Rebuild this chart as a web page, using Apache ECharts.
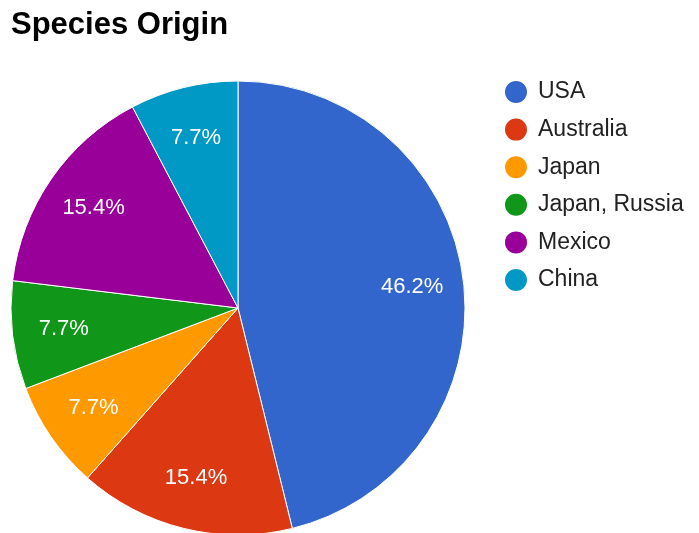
<!DOCTYPE html>
<html>
<head>
<meta charset="utf-8">
<script src="https://cdn.jsdelivr.net/npm/echarts@6/dist/echarts.min.js"></script>
<style>html,body{margin:0;padding:0;background:#fff}#c{width:699px;height:533px}</style>
</head>
<body>
<div id="c"></div>
<script>
var categories = ['USA', 'Australia', 'Japan', 'Japan, Russia', 'Mexico', 'China'];
var counts = [6, 2, 1, 1, 2, 1];
var colors = ['#3366cc', '#dc3912', '#ff9900', '#109618', '#990099', '#0099c6'];
var titleText = 'Species Origin';

var total = counts.reduce(function (a, b) { return a + b; }, 0);
var data = categories.map(function (n, i) { return { name: n, value: counts[i] }; });
var FONT = '"Liberation Sans", Arial, sans-serif';
var chart = echarts.init(document.getElementById('c'), null, { renderer: 'canvas' });
chart.setOption({
  animation: false,
  color: colors,
  title: {
    text: titleText, left: 6, top: 5,
    textStyle: { fontFamily: FONT, fontSize: 31, fontWeight: 'bold', color: '#000' }
  },
  legend: {
    orient: 'vertical', left: 503, top: 79, padding: 0,
    data: categories,
    icon: 'circle', itemWidth: 24, itemHeight: 24, itemGap: 11.6,
    textStyle: { fontFamily: FONT, fontSize: 23, color: '#222', padding: [0, 0, 0, 5] }
  },
  series: [{
    type: 'pie', center: [238, 308], radius: [0, 227],
    startAngle: 90, clockwise: true,
    itemStyle: { borderColor: '#fff', borderWidth: 1 },
    label: { show: false }, labelLine: { show: false },
    emphasis: { disabled: true },
    data: data
  }, {
    type: 'pie', center: [238, 308], radius: [118, 227],
    startAngle: 90, clockwise: true, silent: true,
    itemStyle: { color: 'rgba(0,0,0,0)', borderWidth: 0 },
    label: {
      show: true, position: 'inside', fontFamily: FONT, fontSize: 22, color: '#fff',
      formatter: function (p) { return (p.value / total * 100).toFixed(1) + '%'; }
    },
    labelLine: { show: false },
    emphasis: { disabled: true },
    data: data
  }]
});
</script>
</body>
</html>
